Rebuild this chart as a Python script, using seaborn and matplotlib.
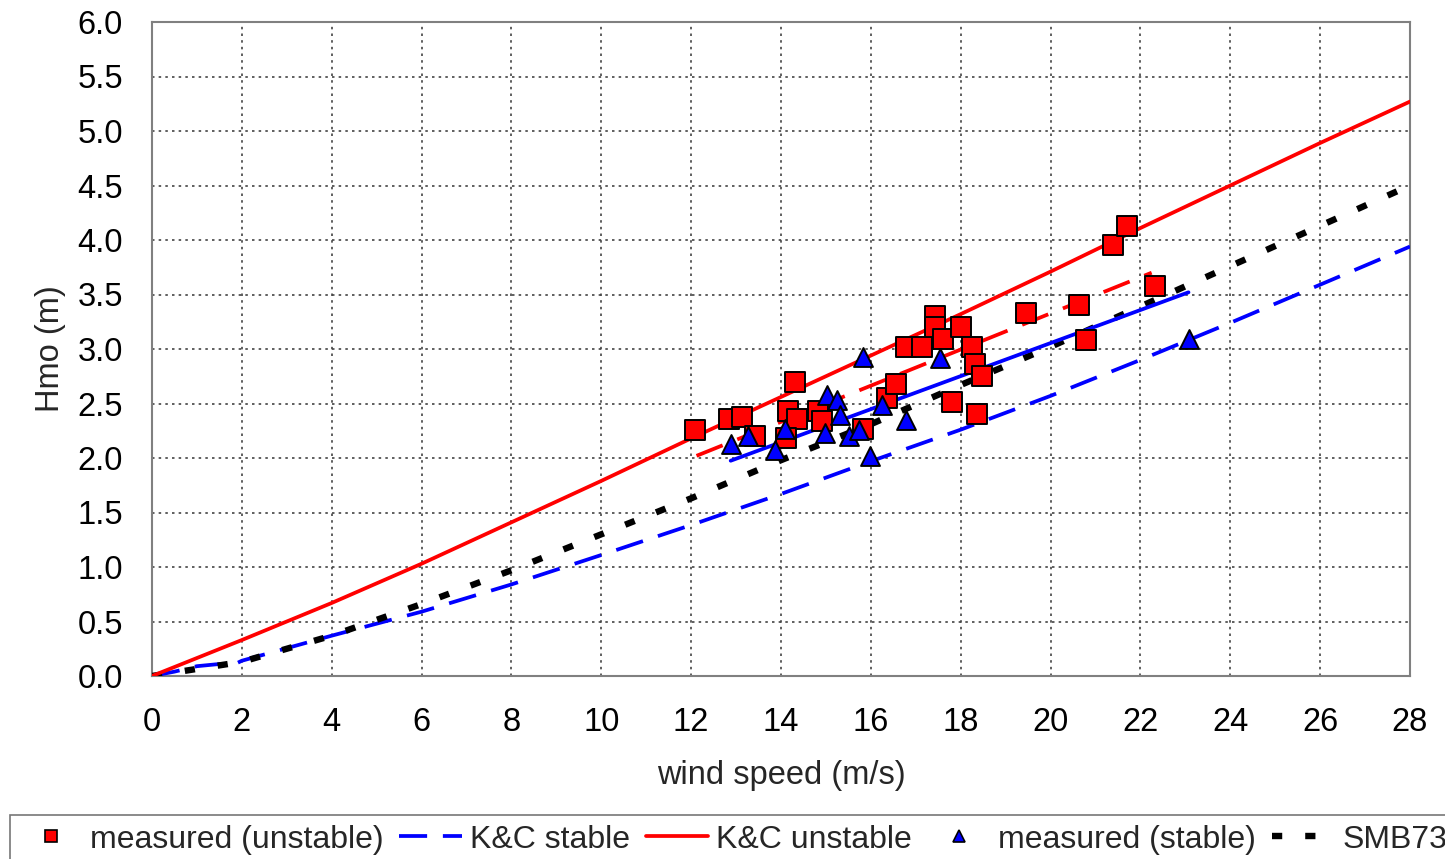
import matplotlib
matplotlib.use("Agg")
import matplotlib.pyplot as plt
import matplotlib.lines as mlines
import seaborn as sns
import numpy as np

# ---- data ----
unstable_x = [12.09, 12.84, 13.13, 13.42, 14.31, 14.16, 14.36, 14.11, 14.83, 14.92,
              15.83, 16.35, 16.57, 16.78, 17.13, 17.43, 17.43, 17.61, 18.00, 18.26,
              18.32, 18.48, 17.81, 18.37, 19.45, 20.63, 20.78, 21.39, 21.71, 22.32]
unstable_y = [2.26, 2.36, 2.38, 2.20, 2.70, 2.43, 2.36, 2.18, 2.43, 2.34,
              2.27, 2.55, 2.68, 3.02, 3.02, 3.30, 3.20, 3.09, 3.20, 3.02,
              2.86, 2.75, 2.51, 2.40, 3.33, 3.40, 3.08, 3.95, 4.13, 3.58]

stable_x = [12.88, 13.27, 13.87, 14.08, 15.03, 15.24, 15.31, 14.99, 15.52, 15.74,
            15.82, 15.98, 16.24, 16.79, 17.55, 23.07]
stable_y = [2.13, 2.20, 2.07, 2.27, 2.58, 2.53, 2.39, 2.23, 2.20, 2.26,
            2.93, 2.02, 2.49, 2.35, 2.92, 3.09]

curve_x = [0, 2, 4, 6, 8, 10, 12, 14, 16, 18, 20, 22, 24, 26, 28]
kc_unstable_y = [0, 0.33, 0.67, 1.03, 1.41, 1.79, 2.18, 2.56, 2.94, 3.32, 3.71, 4.11, 4.50, 4.89, 5.27]
smb73_y = [0, 0.13, 0.37, 0.66, 0.97, 1.30, 1.63, 1.98, 2.31, 2.67, 3.02, 3.39, 3.76, 4.13, 4.50]

kc_stable_x = [0, 0.5, 1.0, 1.5, 1.8, 2, 4, 6, 8, 10, 12, 14, 16, 18, 20, 22, 24, 26, 28]
kc_stable_y = [0, 0.04, 0.09, 0.11, 0.10, 0.14, 0.37, 0.59, 0.84, 1.11, 1.385, 1.67, 1.97,
               2.26, 2.57, 2.90, 3.24, 3.59, 3.94]

fit_unstable_x = [12.12, 22.25]
fit_unstable_y = [2.02, 3.70]
fit_stable_x = [12.88, 23.07]
fit_stable_y = [1.975, 3.52]

x_ticks = list(range(0, 29, 2))
y_ticks = [0.0, 0.5, 1.0, 1.5, 2.0, 2.5, 3.0, 3.5, 4.0, 4.5, 5.0, 5.5, 6.0]

# ---- style ----
sns.set_style("white")
plt.rcParams['font.family'] = ['Liberation Sans', 'DejaVu Sans']
FS = 23.5
LFS = 23
LW = 2.7

fig = plt.figure(figsize=(14.45, 8.59), dpi=100)
ax = fig.add_axes([152/1445, 1-676/859, (1410-152)/1445, (676-22)/859])

# curves
sns.lineplot(x=kc_stable_x, y=kc_stable_y, ax=ax, color='#0000ff', lw=LW, zorder=3)
ax.lines[-1].set_dashes([7.5, 4.2])

sns.lineplot(x=curve_x, y=smb73_y, ax=ax, color='black', lw=4.6, zorder=3)
ax.lines[-1].set_dashes([1.6, 3.6])

sns.lineplot(x=curve_x, y=kc_unstable_y, ax=ax, color='#ff0000', lw=LW, zorder=3)

sns.lineplot(x=fit_unstable_x, y=fit_unstable_y, ax=ax, color='#ff0000', lw=LW, zorder=3)
ax.lines[-1].set_dashes([7.5, 4.2])

sns.lineplot(x=fit_stable_x, y=fit_stable_y, ax=ax, color='#0000ff', lw=LW, zorder=3)

# measurements
sns.scatterplot(x=unstable_x, y=unstable_y, ax=ax, marker='s', s=200, color='#ff0000',
                edgecolor='black', linewidth=1.4, zorder=4)
sns.scatterplot(x=stable_x, y=stable_y, ax=ax, marker='^', s=185, color='#0000ff',
                edgecolor='black', linewidth=1.4, zorder=5)

ax.set_xlim(0, 28)
ax.set_ylim(0, 6)
ax.set_xticks(x_ticks)
ax.set_yticks(y_ticks)
ax.set_xticklabels([str(v) for v in x_ticks], fontsize=FS)
ax.set_yticklabels([f"{v:.1f}" for v in y_ticks], fontsize=FS)
ax.tick_params(axis='both', direction='out', length=9, width=1.2, color='#808080',
               pad=12, labelcolor='black')
ax.tick_params(axis='x', pad=13)

ax.grid(True, which='major', color='#444444', linestyle=(0, (1.5, 2.5)), linewidth=1.2)
ax.set_axisbelow(True)
for sp in ax.spines.values():
    sp.set_visible(True)
    sp.set_color('#808080')
    sp.set_linewidth(1.5)

ax.set_xlabel("wind speed (m/s)", fontsize=FS, labelpad=16)
ax.set_ylabel("Hmo (m)", fontsize=FS, labelpad=8)

# legend
h_unst = mlines.Line2D([], [], linestyle='none', marker='s', markersize=9,
                       markerfacecolor='#ff0000', markeredgecolor='black', markeredgewidth=1.2)
h_kcs = mlines.Line2D([], [], color='#0000ff', lw=LW, dashes=[7.5, 4.2])
h_kcu = mlines.Line2D([], [], color='#ff0000', lw=LW)
h_st = mlines.Line2D([], [], linestyle='none', marker='^', markersize=9,
                     markerfacecolor='#0000ff', markeredgecolor='black', markeredgewidth=1.2)
h_smb = mlines.Line2D([], [], color='black', lw=4.6, dashes=[1.6, 3.6])

leg = fig.legend([h_unst, h_kcs, h_kcu, h_st, h_smb],
                 ["measured (unstable)", "K&C stable", "K&C unstable",
                  "measured (stable)", "SMB73"],
                 loc='upper left', bbox_to_anchor=(10/1445, 1-815/859),
                 ncol=5, fontsize=LFS, frameon=True, fancybox=False,
                 handlelength=1.95, handletextpad=0.25, columnspacing=0.5,
                 borderpad=0.3, borderaxespad=0)
leg.get_frame().set_edgecolor('#555555')
leg.get_frame().set_linewidth(1.2)

fig.savefig("out.png", dpi=100)
